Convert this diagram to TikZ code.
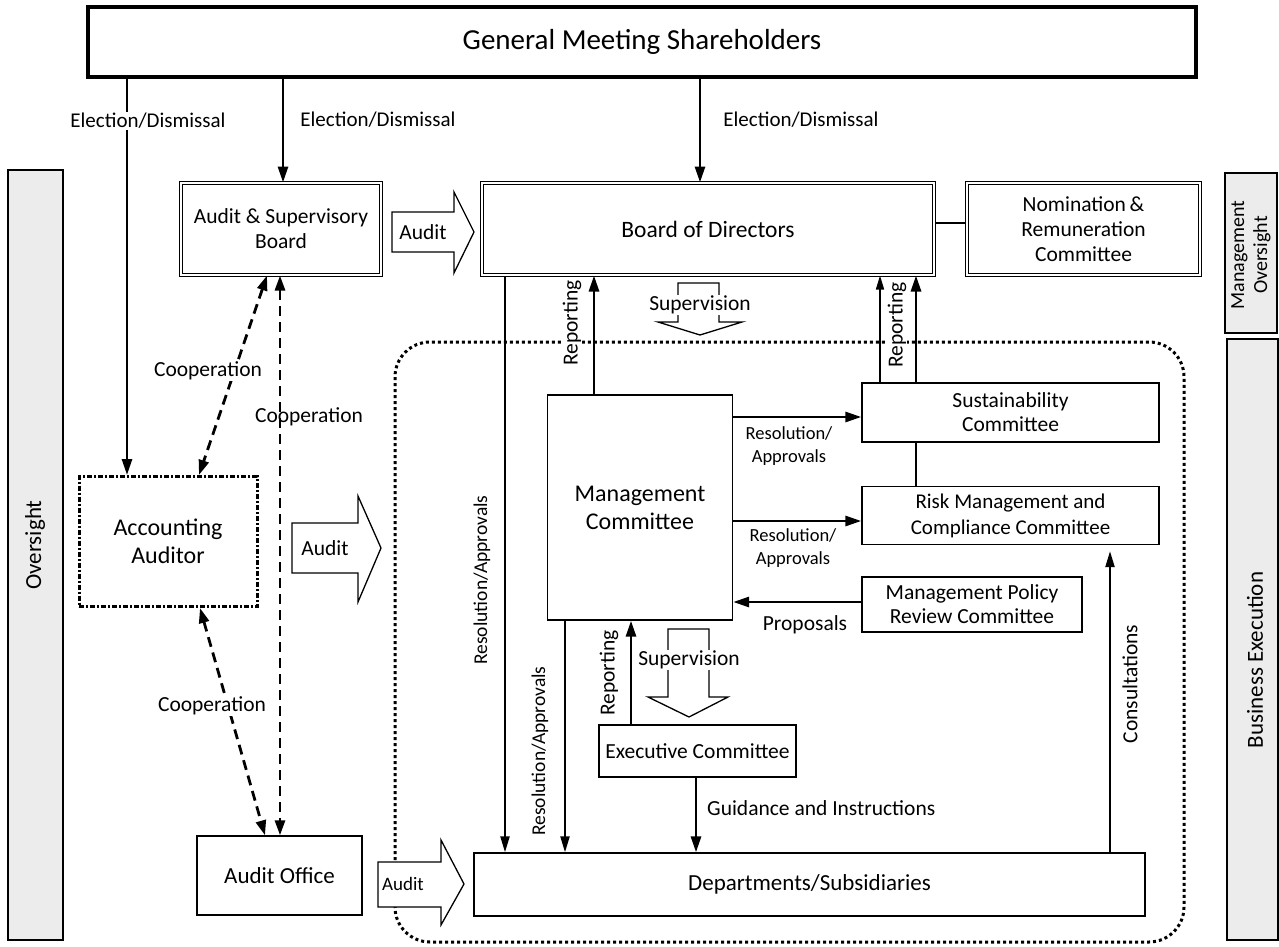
\documentclass[tikz,border=0pt]{standalone}
\usepackage{fontspec}
\setmainfont{Carlito}
\usetikzlibrary{arrows.meta}
\pgfdeclarelayer{bg}
\pgfdeclarelayer{mid}
\pgfsetlayers{bg,mid,main}
\begin{document}
\begin{tikzpicture}[x=1pt,y=-1pt,
  box/.style={draw, fill=white, line width=1.3pt, align=center, inner sep=0pt, font=\fontsize{21.5}{25}\selectfont},
  dbox/.style={box, double, double distance=2.2pt, line width=1pt},
  bar/.style={draw, fill=gray!15, line width=1.3pt, inner sep=0pt},
  lab/.style={font=\fontsize{21.5}{25}\selectfont, inner sep=1pt, align=center},
  slab/.style={lab, font=\fontsize{18.5}{23}\selectfont},
  wlab/.style={lab, fill=white},
  conn/.style={line width=2.8pt, -{Triangle[length=16pt,width=10pt]}},
  mconn/.style={line width=2.2pt, -{Triangle[length=16pt,width=9pt]}},
  tconn/.style={line width=1.6pt, -{Triangle[length=14pt,width=8pt]}},
  coop/.style={line width=2.8pt, dash pattern=on 10pt off 6pt, {Triangle[length=15pt,width=10pt]}-{Triangle[length=15pt,width=10pt]}},
  blk/.style={draw, fill=white, line width=1.3pt, line join=miter},
  plain/.style={line width=2.8pt}
]
\useasboundingbox (0,0) rectangle (1279,947);

% side bars
\node[bar, minimum width=55pt, minimum height=770pt] (barL) at (35.5,555) {};
\node[lab, rotate=90, font=\fontsize{23}{27}\selectfont] (barLt) at (35,545) {Oversight};
\node[bar, minimum width=52pt, minimum height=160pt] (barR1) at (1251,253) {};
\node[lab, rotate=90, font=\fontsize{20}{23}\selectfont] (barR1t) at (1251,255) {Management\\Oversight};
\node[bar, minimum width=51pt, minimum height=601pt] (barR2) at (1252.5,639.5) {};
\node[lab, rotate=90, font=\fontsize{23}{27}\selectfont] (barR2t) at (1255,660) {Business Execution};

% dotted region
\begin{pgfonlayer}{bg}
\draw[line width=3pt, dash pattern=on 3pt off 3pt, rounded corners=35pt] (395,342) rectangle (1184,942);
\end{pgfonlayer}

% boxes
\node[box, line width=3.2pt, minimum width=1108pt, minimum height=70pt, font=\fontsize{29}{34}\selectfont] (gm) at (642,42) {General Meeting Shareholders};
\node[dbox, minimum width=200pt, minimum height=92pt] (asb) at (281,229) {Audit \& Supervisory\\Board};
\node[dbox, minimum width=452pt, minimum height=92pt, font=\fontsize{23.5}{27}\selectfont] (bod) at (708,229) {Board of Directors};
\node[dbox, minimum width=233pt, minimum height=92pt] (nrc) at (1083.5,229) {Nomination\,\&\\Remuneration\\Committee};
\node[box, minimum width=185pt, minimum height=225pt, font=\fontsize{24}{28}\selectfont] (mc) at (640,507.5) {Management\\Committee};
\node[box, minimum width=297pt, minimum height=59pt, font=\fontsize{21.5}{24}\selectfont] (sc) at (1010.5,412.5) {Sustainability\\Committee};
\node[box, minimum width=297pt, minimum height=58pt, font=\fontsize{21}{26}\selectfont] (rmc) at (1010.5,515.5) {Risk Management and\\Compliance Committee};
\node[box, minimum width=220pt, minimum height=55pt, font=\fontsize{21.5}{24}\selectfont] (mprc) at (972,604.5) {Management Policy\\Review Committee};
\node[box, minimum width=197pt, minimum height=52pt] (ec) at (697.5,751) {Executive Committee};
\node[box, minimum width=671pt, minimum height=63pt, font=\fontsize{23}{27}\selectfont] (dep) at (809.5,884.5) {Departments/Subsidiaries};
\node[box, minimum width=165pt, minimum height=79pt, font=\fontsize{23}{27}\selectfont] (ao) at (279.5,875.5) {Audit Office};
\node[box, line width=3pt, dash pattern=on 5pt off 2pt on 2pt off 2pt, minimum width=178pt, minimum height=130pt, font=\fontsize{24}{28}\selectfont] (aa) at (168,541.5) {Accounting\\Auditor};

% block arrows (Audit)
\draw[blk] (392,212) -- (454,212) -- (454,192) -- (474,232) -- (454,273) -- (454,252) -- (392,252) -- cycle;
\node[lab] (aud1) at (423,232) {Audit};
\draw[blk] (292,523) -- (358,523) -- (358,496) -- (381,548) -- (358,602) -- (358,573) -- (292,573) -- cycle;
\node[lab] (aud2) at (325,548) {Audit};
\draw[blk] (378,862) -- (441,862) -- (441,840) -- (464,884) -- (441,925) -- (441,907) -- (378,907) -- cycle;
\node[lab, font=\fontsize{19}{22}\selectfont] (aud3) at (403,884) {Audit};

% supervision block arrows
\draw[blk] (678,283) -- (719,283) -- (719,322) -- (742,322) -- (700,335) -- (658,322) -- (678,322) -- cycle;
\node[wlab] (sup1) at (700,305) {Supervision};
\draw[blk] (668,629) -- (709,629) -- (709,697) -- (728,697) -- (689,717) -- (648,697) -- (668,697) -- cycle;
\node[wlab] (sup2) at (689,660) {Supervision};

% connectors
\begin{pgfonlayer}{mid}
\draw[conn] (gm.south -| 127,0) -- (aa.north -| 127,0);
\draw[conn] (gm.south -| 283,0) -- (asb.north -| 283,0);
\draw[conn] (gm.south -| 700,0) -- (bod.north -| 700,0);
\draw[plain] (bod.east |- 0,223) -- (nrc.west |- 0,223);
\draw[conn] (mc.north -| 594,0) -- (bod.south -| 594,0);
\draw[mconn] (bod.south -| 505,0) -- (dep.north -| 505,0);
\draw[mconn] (mc.south -| 565,0) -- (dep.north -| 565,0);
\draw[tconn] (sc.north -| 880,0) -- (bod.south -| 880,0);
\draw[conn] (rmc.north -| 916,0) -- (bod.south -| 916,0);
\draw[conn] (mc.east |- 0,417) -- (sc.west |- 0,417);
\draw[conn] (mc.east |- 0,521) -- (rmc.west |- 0,521);
\draw[conn] (mprc.west |- 0,602) -- (mc.east |- 0,602);
\draw[conn] (ec.north -| 631,0) -- (mc.south -| 631,0);
\draw[conn] (ec.south -| 696,0) -- (dep.north -| 696,0);
\draw[mconn, shorten >=6pt] (dep.north -| 1110,0) -- (rmc.south -| 1110,0);
\draw[coop] (asb.south -| 267,0) -- (aa.north -| 199,0);
\draw[coop] (asb.south -| 280,0) -- (ao.north -| 280,0);
\draw[coop] (aa.south -| 200,0) -- (ao.north -| 265,0);
\end{pgfonlayer}

% labels
\node[wlab, font=\fontsize{21}{25}\selectfont] (el1) at (148,121) {Election/Dismissal};
\node[lab, font=\fontsize{21}{25}\selectfont] (el2) at (378,120) {Election/Dismissal};
\node[lab, font=\fontsize{21}{25}\selectfont] (el3) at (801,120) {Election/Dismissal};
\node[wlab, rotate=90] (rep1) at (572,323) {Reporting};
\node[wlab, rotate=90] (rep2) at (897,325) {Reporting};
\node[lab, rotate=90, font=\fontsize{19.5}{23}\selectfont] (res1) at (482,580) {Resolution/Approvals};
\node[lab, rotate=90, font=\fontsize{19.5}{23}\selectfont] (res2) at (540,751) {Resolution/Approvals};
\node[lab, rotate=90] (rep3) at (609,673) {Reporting};
\node[slab] (ra1) at (789,446) {Resolution/\\Approvals};
\node[slab] (ra2) at (793,548) {Resolution/\\Approvals};
\node[lab] (prop) at (805,625) {Proposals};
\node[lab, anchor=west] (guid) at (706,808) {Guidance and Instructions};
\node[lab, rotate=90] (cons) at (1130,684) {Consultations};
\node[wlab] (co1) at (208,371) {Cooperation};
\node[lab] (co2) at (309,417) {Cooperation};
\node[wlab] (co3) at (212,706) {Cooperation};
\end{tikzpicture}
\end{document}
